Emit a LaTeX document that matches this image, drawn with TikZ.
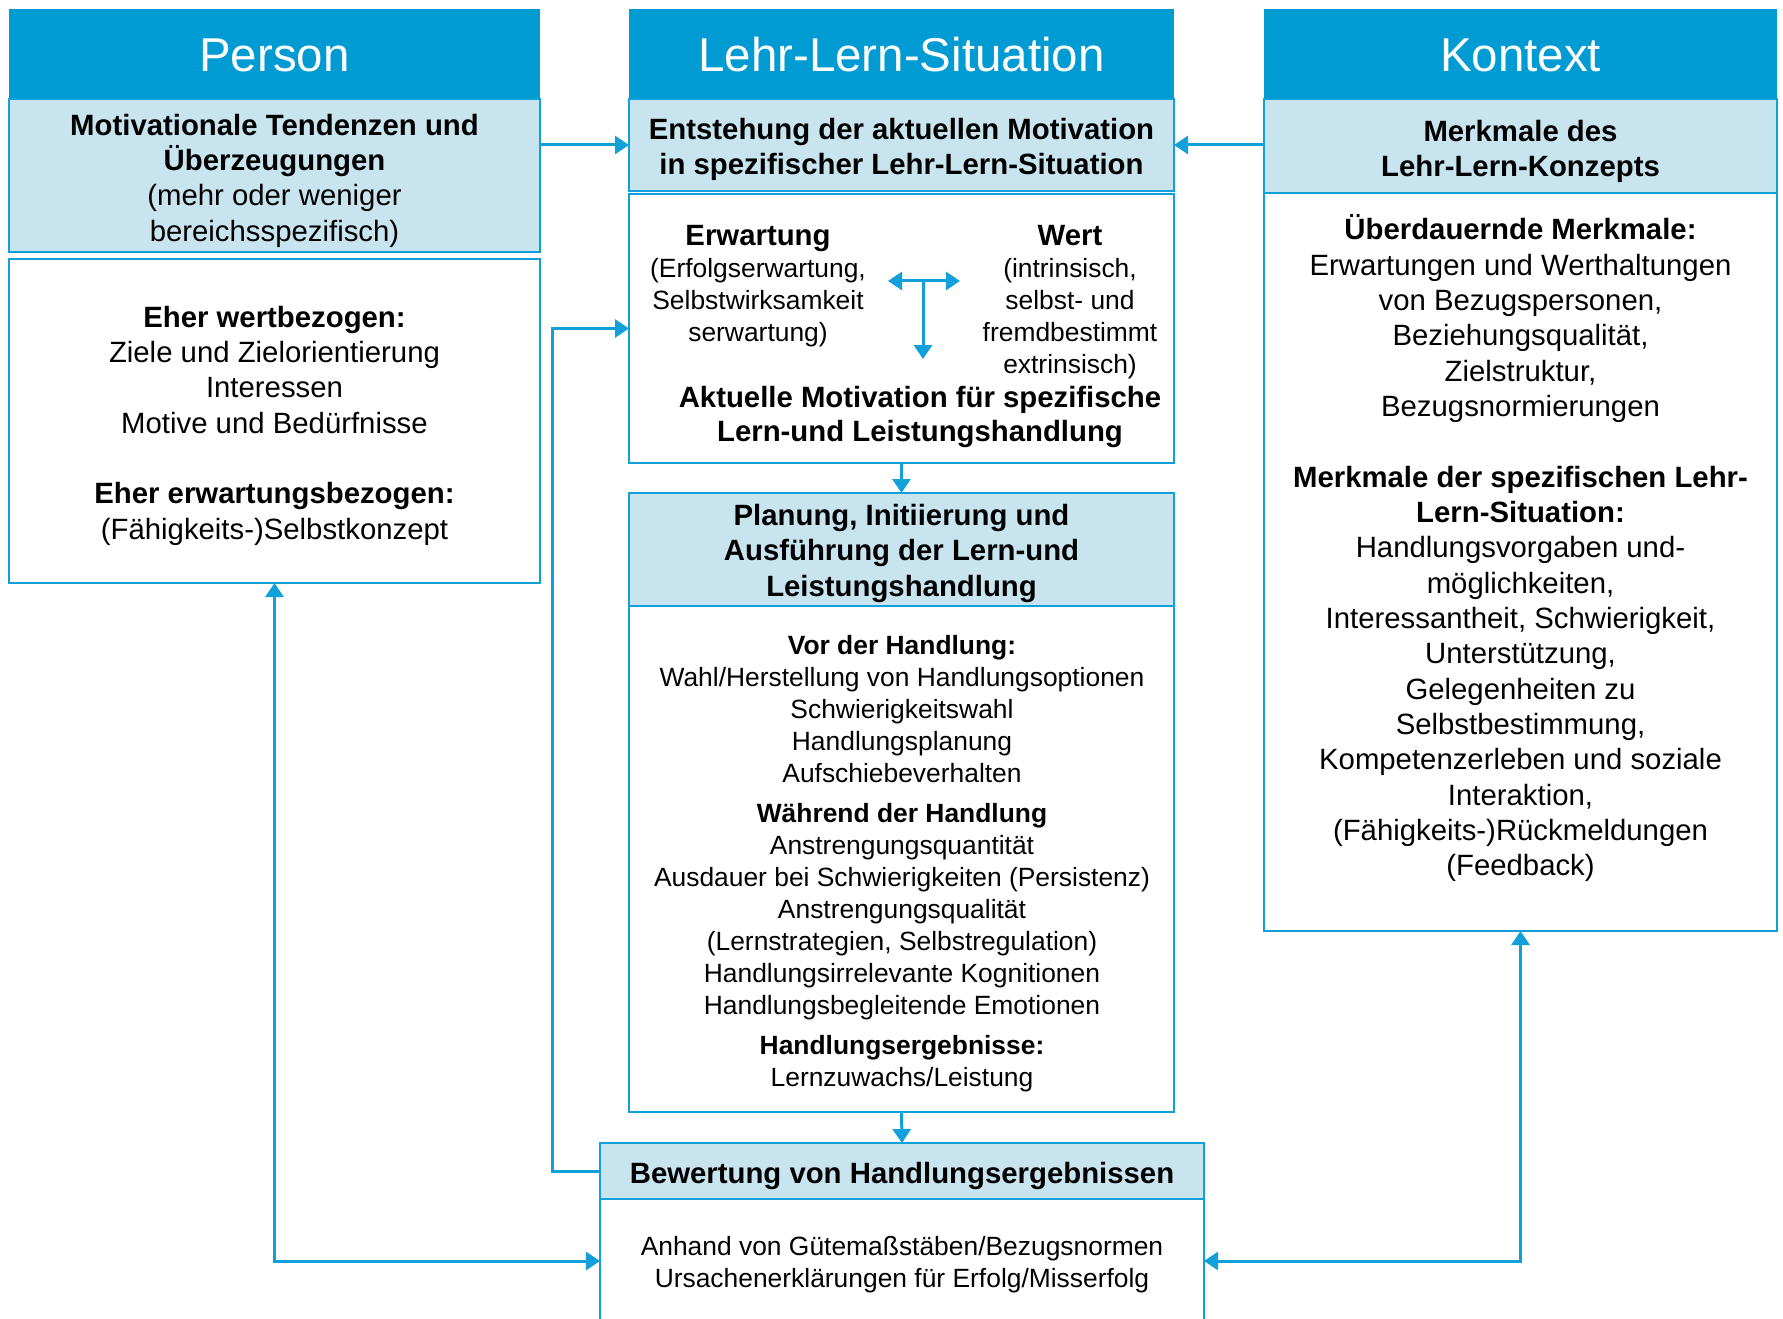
\documentclass[tikz,border=0pt]{standalone}
\usepackage{fontspec}
\setmainfont{Liberation Sans}
\usetikzlibrary{arrows.meta}
\definecolor{hdr}{RGB}{0,155,210}
\definecolor{lite}{RGB}{199,228,239}
\definecolor{edge}{RGB}{18,160,218}
\begin{document}
\begin{tikzpicture}[x=0.75pt,y=-0.75pt,
  hdrbox/.style={fill=hdr, draw=none, inner sep=0pt, outer sep=0pt},
  litebox/.style={fill=lite, draw=edge, line width=2pt, inner sep=0pt, outer sep=0pt},
  whitebox/.style={fill=white, draw=edge, line width=2pt, inner sep=0pt, outer sep=0pt},
  hdrtext/.style={text=white, font=\fontsize{35.6}{40}\selectfont, inner sep=0pt},
  titletext/.style={font=\bfseries\fontsize{22}{26.5}\selectfont, align=center, inner sep=0pt, yshift=-2.6pt},
  bodytext/.style={font=\fontsize{22}{26.5}\selectfont, align=center, inner sep=0pt, yshift=-2.6pt},
  smalltext/.style={font=\fontsize{19.8}{24}\selectfont, align=center, inner sep=0pt, yshift=-2.6pt},
  tip/.tip={Triangle[length=10.5pt,width=13.5pt]},
  conn/.style={draw=edge, line width=2.25pt, -tip},
  dconn/.style={draw=edge, line width=2.25pt, tip-tip}
]
\useasboundingbox (0,0) rectangle (1783,1319);
\clip (0,0) rectangle (1783,1319);

% ---------- Person column ----------
\node[hdrbox, minimum width=398.25pt, minimum height=67.5pt] (personhdr) at (274.5,54) {};
\node[litebox, minimum width=398.25pt, minimum height=114.75pt] (personlight) at (274.5,175.5) {};
\node[whitebox, minimum width=398.25pt, minimum height=243pt] (personwhite) at (274.5,421) {};

% ---------- Lehr-Lern-Situation column ----------
\node[hdrbox, minimum width=408.75pt, minimum height=67.5pt] (llshdr) at (901.5,54) {};
\node[litebox, minimum width=408.75pt, minimum height=69pt] (llslight) at (901.5,145) {};
\node[whitebox, minimum width=408.75pt, minimum height=201.75pt] (llswhite) at (901.5,328.5) {};
\node[litebox, minimum width=408.75pt, minimum height=84.75pt] (planlight) at (901.5,549.5) {};
\node[whitebox, minimum width=408.75pt, minimum height=379.5pt] (planwhite) at (901.5,859) {};
\node[litebox, minimum width=453pt, minimum height=42pt] (bewlight) at (902,1171) {};
\node[whitebox, minimum width=453pt, minimum height=93pt] (bewwhite) at (902,1261) {};

% ---------- Kontext column ----------
\node[hdrbox, minimum width=384.75pt, minimum height=67.5pt] (kontexthdr) at (1520.5,54) {};
\node[litebox, minimum width=384.75pt, minimum height=70.5pt] (kontextlight) at (1520.5,146) {};
\node[whitebox, minimum width=384.75pt, minimum height=553.5pt] (kontextwhite) at (1520.5,562) {};

% ---------- Texts ----------
\node[hdrtext] (tperson) at (274.5,55) {Person};
\node[hdrtext] (tlls) at (901.5,55) {Lehr-Lern-Situation};
\node[hdrtext] (tkontext) at (1520.5,55) {Kontext};

\node[bodytext] (tpersonlight) at (274.5,177) {\textbf{Motivationale Tendenzen und}\\\textbf{Überzeugungen}\\(mehr oder weniger\\bereichsspezifisch)};
\node[bodytext] (tpersonwhite) at (274.5,422) {\textbf{Eher wertbezogen:}\\Ziele und Zielorientierung\\Interessen\\Motive und Bedürfnisse\\[26.5pt]\textbf{Eher erwartungsbezogen:}\\(Fähigkeits-)Selbstkonzept};

\node[titletext] (tllslight) at (901.5,146) {Entstehung der aktuellen Motivation\\in spezifischer Lehr-Lern-Situation};
\node[smalltext, yshift=0.6pt] (terw) at (758,283) {{\bfseries\fontsize{22}{24}\selectfont Erwartung}\\(Erfolgserwartung,\\Selbstwirksamkeit\\serwartung)};
\node[smalltext, yshift=0.6pt] (twert) at (1070,299) {{\bfseries\fontsize{22}{24}\selectfont Wert}\\(intrinsisch,\\selbst- und\\fremdbestimmt\\extrinsisch)};
\node[titletext, font=\bfseries\fontsize{22}{25.5}\selectfont] (takt) at (920,414) {Aktuelle Motivation für spezifische\\Lern-und Leistungshandlung};

\node[titletext] (tplanlight) at (901.5,550) {Planung, Initiierung und\\Ausführung der Lern-und\\Leistungshandlung};
\node[smalltext] (tplanwhite) at (902,860) {\textbf{Vor der Handlung:}\\Wahl/Herstellung von Handlungsoptionen\\Schwierigkeitswahl\\Handlungsplanung\\Aufschiebeverhalten\\[6pt]\textbf{Während der Handlung}\\Anstrengungsquantität\\Ausdauer bei Schwierigkeiten (Persistenz)\\Anstrengungsqualität\\(Lernstrategien, Selbstregulation)\\Handlungsirrelevante Kognitionen\\Handlungsbegleitende Emotionen\\[6pt]\textbf{Handlungsergebnisse:}\\Lernzuwachs/Leistung};

\node[titletext, yshift=-0.8pt] (tbewlight) at (902,1171) {Bewertung von Handlungsergebnissen};
\node[smalltext] (tbewwhite) at (902,1261) {Anhand von Gütemaßstäben/Bezugsnormen\\Ursachenerklärungen für Erfolg/Misserfolg};

\node[titletext] (tkontextlight) at (1520.5,148) {Merkmale des\\Lehr-Lern-Konzepts};
\node[bodytext, yshift=0.8pt] (tkontextwhite) at (1520.5,546) {\textbf{Überdauernde Merkmale:}\\Erwartungen und Werthaltungen\\von Bezugspersonen,\\Beziehungsqualität,\\Zielstruktur,\\Bezugsnormierungen\\[26.5pt]\textbf{Merkmale der spezifischen Lehr-}\\\textbf{Lern-Situation:}\\Handlungsvorgaben und-\\möglichkeiten,\\Interessantheit, Schwierigkeit,\\Unterstützung,\\Gelegenheiten zu\\Selbstbestimmung,\\Kompetenzerleben und soziale\\Interaktion,\\(Fähigkeits-)Rückmeldungen\\(Feedback)};

% ---------- Connectors ----------
\draw[conn] (personlight.east |- llslight.west) -- (llslight.west);
\draw[conn] (kontextlight.west |- llslight.east) -- (llslight.east);
\draw[conn] (llswhite.south) -- (planlight.north);
\draw[conn] (planwhite.south) -- (bewlight.north);
\draw[conn] (bewlight.west) -- ++(-48,0) |- (llswhite.west);
\draw[dconn] (personwhite.south) |- (bewwhite.west);
\draw[dconn] (kontextwhite.south) |- (bewwhite.east);

% inner arrows (Erwartung <-> Wert, down to Aktuelle Motivation)
\coordinate (hl) at (888,281);
\coordinate (hr) at (960,281);
\coordinate (vt) at (923,281);
\coordinate (vb) at (923,359);
\draw[dconn] (hl) -- (hr);
\draw[conn] (vt) -- (vb);
\end{tikzpicture}
\end{document}
